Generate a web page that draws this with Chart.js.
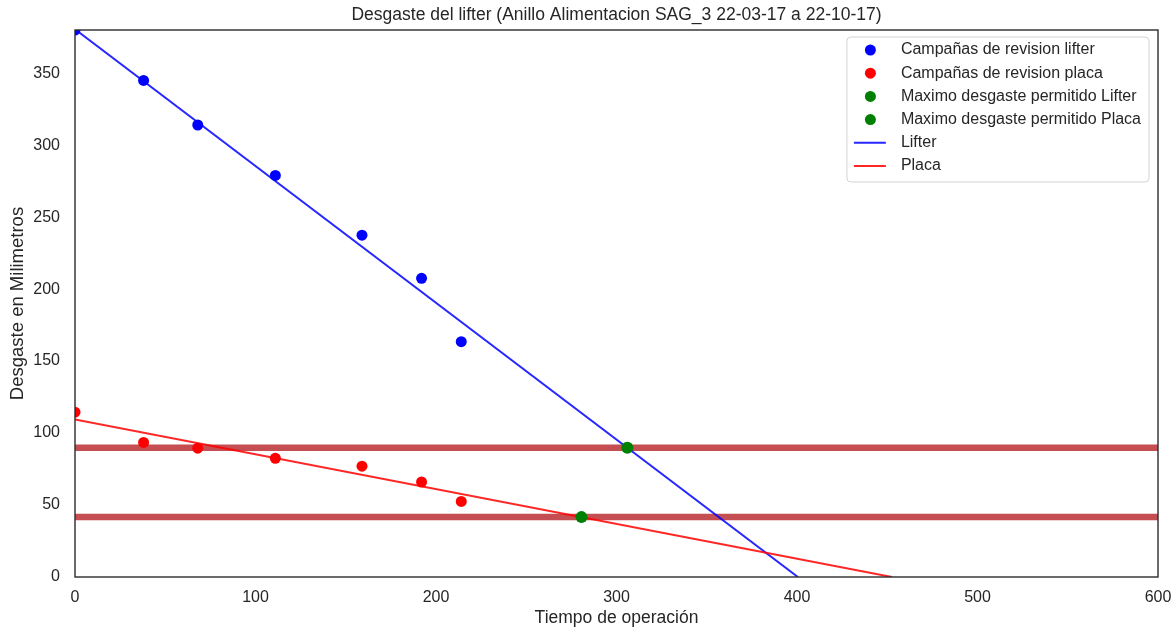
<!DOCTYPE html>
<html>
<head>
<meta charset="utf-8">
<title>Desgaste del lifter</title>
<script src="https://cdn.jsdelivr.net/npm/chart.js@4/dist/chart.umd.min.js"></script>
<style>
  html, body { margin: 0; padding: 0; background: #ffffff; }
  #wrap { width: 1173px; height: 628px; position: relative; }
</style>
</head>
<body>
<div id="wrap"><canvas id="grafico"></canvas></div>
<script>
// Campañas de revision: dias de operacion y espesor medido (mm)
const diasRevision = [0, 38, 68, 111, 159, 192, 214];
const lifterMm = [380, 345, 314, 279, 237.5, 207.5, 163.5];
const placaMm = [114.5, 93.5, 89.5, 82.5, 77, 66, 52.5];

// Maximo desgaste permitido (mm) y punto en que la recta lo alcanza
const limiteLifter = 89.8;
const limitePlaca = 41.6;
const diaLimiteLifter = 306;
const diaLimitePlaca = 280.6;

// Rectas de tendencia (extremos: inicio y corte con cero)
const rectaLifterX = [0, 400.5];
const rectaLifterY = [380.5, 0];
const rectaPlacaX = [0, 452.5];
const rectaPlacaY = [109.5, 0];

// Ejes
const ejeX = [0, 600];
const ejeY = [0, 380];
const ticksX = [0, 100, 200, 300, 400, 500, 600];
const ticksY = [0, 50, 100, 150, 200, 250, 300, 350];

const titulo = 'Desgaste del lifter (Anillo Alimentacion SAG_3 22-03-17 a 22-10-17)';

const TXT = '#262626';
const FONT = "'Liberation Sans', Arial, sans-serif";

const pares = (xs, ys) => xs.map((x, i) => ({ x: x, y: ys[i] }));

const datasets = [
  { label: null, data: pares(ejeX, [limiteLifter, limiteLifter]), showLine: true,
    borderColor: '#c44e52', borderWidth: 6.5, pointRadius: 0, order: 10 },
  { label: null, data: pares(ejeX, [limitePlaca, limitePlaca]), showLine: true,
    borderColor: '#c44e52', borderWidth: 6.5, pointRadius: 0, order: 9 },
  { label: 'Campañas de revision lifter', data: pares(diasRevision, lifterMm),
    backgroundColor: '#0000ff', borderColor: '#0000ff', pointRadius: 5.5, borderWidth: 0, order: 4 },
  { label: 'Campañas de revision placa', data: pares(diasRevision, placaMm),
    backgroundColor: '#ff0000', borderColor: '#ff0000', pointRadius: 5.5, borderWidth: 0, order: 3 },
  { label: 'Maximo desgaste permitido Lifter', data: [{ x: diaLimiteLifter, y: limiteLifter }],
    backgroundColor: '#008000', borderColor: '#008000', pointRadius: 6, borderWidth: 0, order: 2 },
  { label: 'Maximo desgaste permitido Placa', data: [{ x: diaLimitePlaca, y: limitePlaca }],
    backgroundColor: '#008000', borderColor: '#008000', pointRadius: 6, borderWidth: 0, order: 1 },
  { label: 'Lifter', data: pares(rectaLifterX, rectaLifterY), showLine: true,
    borderColor: 'rgba(0,0,255,0.85)', borderWidth: 2, pointRadius: 0, order: 6 },
  { label: 'Placa', data: pares(rectaPlacaX, rectaPlacaY), showLine: true,
    borderColor: 'rgba(255,0,0,0.85)', borderWidth: 2, pointRadius: 0, order: 5 }
];
datasets.forEach(d => { d.clip = 0; d.pointHoverRadius = d.pointRadius; });

// Marco del area de trazado (los cuatro lados)
const marco = {
  id: 'marco',
  afterDatasetsDraw(chart) {
    const { ctx, chartArea: a } = chart;
    ctx.save();
    ctx.strokeStyle = '#2b2b2b';
    ctx.lineWidth = 1.4;
    ctx.strokeRect(a.left, a.top, a.right - a.left, a.bottom - a.top);
    ctx.restore();
  }
};

// Titulo centrado sobre el area de trazado
const tituloEjes = {
  id: 'tituloEjes',
  afterDraw(chart) {
    const { ctx, chartArea: a } = chart;
    ctx.save();
    ctx.font = '17.5px ' + FONT;
    ctx.fillStyle = TXT;
    ctx.textAlign = 'center';
    ctx.textBaseline = 'middle';
    ctx.fillText(titulo, (a.left + a.right) / 2, a.top - 15);
    ctx.restore();
  }
};

// Leyenda dentro del area de trazado, esquina superior derecha
const leyenda = {
  id: 'leyenda',
  afterDraw(chart) {
    const { ctx, chartArea: a } = chart;
    const items = chart.data.datasets.filter(d => d.label);
    ctx.save();
    ctx.font = '16px ' + FONT;
    const maxW = Math.max(...items.map(d => ctx.measureText(d.label).width));
    const fila = 23.2;
    const w = 54 + maxW + 8;
    const h = 14 + fila * (items.length - 1) + 15;
    const x0 = a.right - 9 - w;
    const y0 = a.top + 7;
    ctx.beginPath();
    ctx.roundRect(x0, y0, w, h, 4);
    ctx.fillStyle = 'rgba(255,255,255,0.85)';
    ctx.fill();
    ctx.strokeStyle = '#d3d3d3';
    ctx.lineWidth = 1;
    ctx.stroke();
    items.forEach((d, i) => {
      const cy = y0 + 13 + i * fila;
      if (d.showLine) {
        ctx.strokeStyle = d.borderColor;
        ctx.lineWidth = 2;
        ctx.beginPath();
        ctx.moveTo(x0 + 7, cy);
        ctx.lineTo(x0 + 39, cy);
        ctx.stroke();
      } else {
        ctx.fillStyle = d.backgroundColor;
        ctx.beginPath();
        ctx.arc(x0 + 23.5, cy, 5.5, 0, Math.PI * 2);
        ctx.fill();
      }
      ctx.fillStyle = TXT;
      ctx.textBaseline = 'middle';
      ctx.textAlign = 'left';
      ctx.fillText(d.label, x0 + 54, cy);
    });
    ctx.restore();
  }
};

new Chart(document.getElementById('grafico'), {
  type: 'scatter',
  data: { datasets: datasets },
  options: {
    responsive: true,
    maintainAspectRatio: false,
    animation: false,
    events: [],
    layout: { padding: { left: 0, right: 15, top: 30, bottom: 0 } },
    plugins: {
      legend: { display: false },
      tooltip: { enabled: false },
      title: { display: false }
    },
    scales: {
      x: {
        type: 'linear',
        min: ejeX[0], max: ejeX[1],
        grid: { display: false, drawTicks: false },
        border: { display: false },
        afterBuildTicks: s => { s.ticks = ticksX.map(v => ({ value: v })); },
        afterFit: s => { s.height = 51; s.paddingLeft = 0; s.paddingRight = 0; },
        ticks: { color: TXT, font: { family: FONT, size: 16 }, padding: 11, maxRotation: 0 },
        title: { display: true, text: 'Tiempo de operación', color: TXT,
          font: { family: FONT, size: 17.5 }, padding: { top: 0, bottom: -1 } }
      },
      y: {
        type: 'linear',
        min: ejeY[0], max: ejeY[1],
        grid: { display: false, drawTicks: false },
        border: { display: false },
        afterBuildTicks: s => { s.ticks = ticksY.map(v => ({ value: v })); },
        afterFit: s => { s.width = 75; s.paddingTop = 0; s.paddingBottom = 0; },
        ticks: { color: TXT, font: { family: FONT, size: 16 }, padding: 15 },
        title: { display: true, text: 'Desgaste en Milimetros', color: TXT,
          font: { family: FONT, size: 18.5 }, padding: { top: 7, bottom: 0 } }
      }
    }
  },
  plugins: [marco, tituloEjes, leyenda]
});
</script>
</body>
</html>
